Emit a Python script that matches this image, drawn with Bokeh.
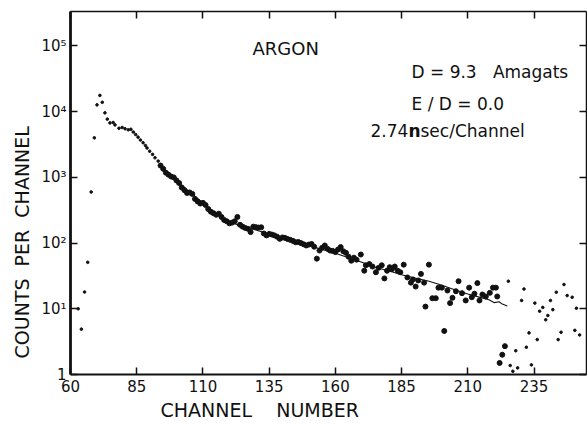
from bokeh.plotting import figure
from bokeh.models import (LinearAxis, LogAxis, FixedTicker, Label, Range1d, Title)
from bokeh.embed import file_html
from bokeh.resources import INLINE

# ---------------- data ----------------
# early small-dot channels (rise and plateau)
early_ch = [62.9, 64.1, 65.3, 66.5, 67.8, 69.0, 70.0, 71.1, 72.0, 73.0, 73.9,
            74.9, 76.1, 76.8, 78.3, 79.5, 80.6, 81.8, 82.8, 83.7, 84.6, 85.5,
            86.4, 87.4, 88.3, 88.9, 89.9, 91.0, 91.9, 93.1]
early_counts = [10, 4.9, 18, 51, 600, 4000, 12700, 17700, 13900, 9600, 7700,
                6750, 6840, 6300, 5600, 5750, 5500, 5300, 5400, 4900, 4500, 4100,
                3700, 3370, 3050, 2800, 2500, 2240, 1990, 1770]

# main decay (large dots)
main_ch = [94, 95, 96, 97, 98, 99, 100, 101, 102, 103, 104, 105, 106, 107, 108,
           109, 110, 111, 112, 113, 114, 115, 116, 117, 118, 119, 120, 121, 122,
           123, 124, 125, 126, 127, 128, 129, 130, 131, 132, 133, 134, 135, 136,
           137, 138, 139, 140, 141, 142, 143, 144, 145, 146, 147, 148, 149, 150,
           151, 152, 153, 154, 155, 156, 157, 158, 159, 160, 161, 162, 163, 164,
           165, 166, 167, 168, 169.6, 170.9, 171.5, 172.8, 174, 175.3, 176.3,
           177.5, 178.5, 179.5, 180.5, 181.3, 182.4, 183.5, 184.5, 185.8, 187.2,
           188.5, 189.3, 190.3, 191.3, 192.3, 193.5, 194.0, 195.3, 196.6, 197.9,
           198.9, 200.2, 201.1, 202.3, 203.3, 204.2, 205.5, 206.5, 207.8, 209.2,
           210.5, 211.5, 212.5, 213.6, 214.4, 215.5, 216.8, 218.3, 219.5, 220.6,
           221.1, 222.0, 223.0, 224.0]
main_counts = [1515, 1350, 1180, 1100, 1030, 1000, 900, 820, 700, 640, 580, 590,
               560, 470, 430, 400, 410, 380, 330, 300, 285, 270, 280, 250, 225,
               215, 200, 205, 215, 250, 190, 178, 170, 165, 147, 178, 175, 172,
               174, 140, 131, 138, 135, 131, 125, 116, 122, 120, 115, 112, 108,
               103, 104, 100, 96, 92, 95, 97, 88, 58, 77, 85, 92, 82, 77, 76, 73,
               80, 87, 75, 71, 62, 54, 60, 56, 67, 38, 46, 48, 44, 36, 42, 46, 29,
               38, 43, 40, 44, 38, 36, 47, 30, 25, 28, 21.8, 27, 34, 25, 10.8, 47,
               14.5, 14.5, 21, 21, 4.6, 19, 12.2, 14.7, 18.5, 26.3, 17.3, 13.4, 21,
               15, 17, 24.6, 13.4, 16.5, 15.4, 17.5, 21, 21, 15.4, 1.5, 2.0, 2.7]

# late scattered small dots
late_ch = [225.3, 226.0, 227.0, 228.1, 228.8, 230.3, 231.2, 232.1, 233.1, 234.0,
           235.3, 236.2, 237.1, 238.3, 239.4, 240.2, 241.2, 242.1, 243.4, 244.1,
           245.2, 246.3, 247.5, 249.4, 250.4, 251.0, 252.2]
late_counts = [26.3, 1.37, 1.12, 2.3, 1.26, 13.4, 20, 2.6, 4.3, 1.4, 12.2, 3.4,
               9.2, 10.5, 6.8, 7.9, 13.4, 9.7, 17.9, 3.4, 4.4, 23.4, 15.9, 15,
               4.7, 10.2, 4.0]

# fitted curve
fit_ch = [94, 100, 105, 110, 115, 120, 125, 130, 135, 140, 145, 150, 155, 160,
          165, 170, 175, 180, 185, 190, 195, 200, 205, 210, 215, 218, 220, 221.8,
          223, 224.9]
fit_counts = [1500, 900, 600, 410, 280, 212, 178, 158, 137, 119, 105, 93, 80, 70,
              60, 51, 43, 38, 33, 29.5, 26.5, 23, 19.5, 16.8, 14.8, 13.7, 12.4,
              12.8, 11.8, 11]

x_ticks = [60, 85, 110, 135, 160, 185, 210, 235]
y_ticks = [1, 10, 100, 1000, 10000, 100000]
y_tick_labels = ["1", "10\u00b9", "10\u00b2", "10\u00b3", "10\u2074", "10\u2075"]

NB = "\u00a0"

# ---------------- figure ----------------
FONT = "DejaVu Sans"
INK = "#111111"
FRAME_LEFT, FRAME_BOTTOM = 70, 374   # canvas px, used to place free texts

p = figure(width=587, height=424, output_backend="svg", toolbar_location=None,
           y_axis_type="log", x_range=Range1d(60, 254.8),
           y_range=Range1d(1, 10 ** 5.525),
           min_border_left=70, min_border_right=1, min_border_top=11,
           min_border_bottom=50, outline_line_color=None,
           background_fill_color="white", border_fill_color="white")
p.grid.visible = False

xa = p.xaxis[0]
ya = p.yaxis[0]
xa.ticker = FixedTicker(ticks=x_ticks, minor_ticks=[])
ya.ticker = FixedTicker(ticks=y_ticks, minor_ticks=[])
ya.major_label_overrides = {v: s for v, s in zip(y_ticks, y_tick_labels)}

for ax, lw in ((xa, 2.2), (ya, 2.8)):
    ax.axis_line_width = lw
    ax.axis_line_color = INK
    ax.major_tick_in = 7
    ax.major_tick_out = 0
    ax.major_tick_line_width = 1.5
    ax.major_tick_line_color = INK
    ax.minor_tick_line_color = None
    ax.major_label_text_font = FONT
    ax.major_label_text_font_size = "15px"
    ax.major_label_text_color = INK
xa.major_label_standoff = 5
ya.major_label_standoff = 4

frame_axis_style = dict(major_label_text_font_size="1px",
                        major_label_text_color=None, major_tick_in=7,
                        major_tick_out=0, axis_line_width=1.5,
                        axis_line_color=INK, major_tick_line_width=1.5,
                        major_tick_line_color=INK, minor_tick_line_color=None,
                        major_label_standoff=0)
top = LinearAxis(ticker=FixedTicker(ticks=x_ticks, minor_ticks=[]),
                 **frame_axis_style)
right = LogAxis(ticker=FixedTicker(ticks=y_ticks, minor_ticks=[]),
                **frame_axis_style)
p.add_layout(top, "above")
p.add_layout(right, "right")

# axis titles as side titles (offset from the frame's start)
p.add_layout(Title(text="COUNTS" + NB + " PER" + NB + " CHANNEL", align="left",
                   offset=16, standoff=12, text_font=FONT, text_font_size="19px",
                   text_font_style="normal", text_color=INK), "left")
p.add_layout(Title(text="CHANNEL" + NB * 3 + " NUMBER", align="left", offset=90,
                   standoff=4, text_font=FONT, text_font_size="19px",
                   text_font_style="normal", text_color=INK), "below")

# ---------------- marks ----------------
p.line(fit_ch, fit_counts, line_color=INK, line_width=1.1)
p.scatter(early_ch, early_counts, size=2.6, color=INK)
p.scatter(main_ch, main_counts, size=5, color=INK)
p.scatter(late_ch, late_counts, size=2.6, color=INK)

# ---------------- texts ----------------
def lab(text, X, Y, size="17px", style="normal"):
    # X, Y: canvas pixels from top-left; Label screen units are frame-relative
    p.add_layout(Label(x=X - FRAME_LEFT, y=FRAME_BOTTOM - Y, x_units="screen",
                       y_units="screen", text=text, text_font=FONT,
                       text_font_size=size, text_color=INK,
                       text_font_style=style, text_align="left",
                       text_baseline="middle"))

lab("ARGON", 252, 48, size="18px")
lab("D = 9.3" + NB * 3 + "Amagats", 411, 71)
lab("E / D = 0.0", 411, 103)
lab("2.74", 370, 130)
lab("n", 408, 130, style="bold")
lab("sec/Channel", 420, 130)

open("out.html", "w").write(file_html(p, INLINE))
